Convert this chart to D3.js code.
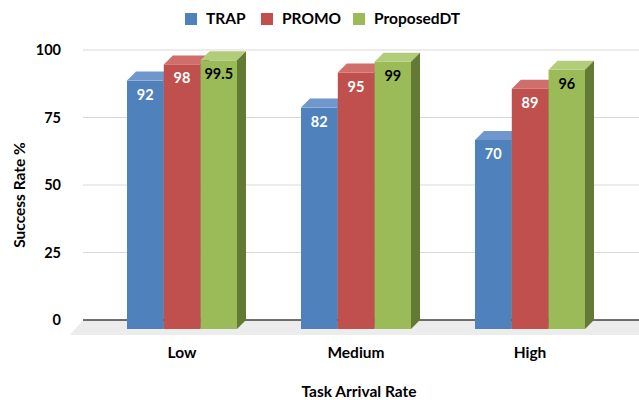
<!DOCTYPE html>
<html>
<head>
<meta charset="utf-8">
<script src="https://cdn.jsdelivr.net/npm/d3@7"></script>
<style>
  html, body { margin: 0; padding: 0; background: #fff; }
  svg { display: block; font-family: Lato, "Open Sans", sans-serif; }
</style>
</head>
<body>
<svg id="chart" width="639" height="400"></svg>
<script>
// Success rate per task arrival rate, three schedulers
const categories = ["Low", "Medium", "High"];
const seriesNames = ["TRAP", "PROMO", "ProposedDT"];
const trap = [92, 82, 70];
const promo = [98, 95, 89];
const proposedDT = [99.5, 99, 96];
const yTicks = [0, 25, 50, 75, 100];

const seriesValues = [trap, promo, proposedDT];
const front = ["#4f81bd", "#c0504d", "#9bbb59"];
const topFace = ["#6f97cc", "#cf6e6b", "#b2cd7a"];
const sideFace = ["#385d8a", "#8c3a38", "#637a35"];
const labelColor = ["#ffffff", "#ffffff", "#000000"];

const svg = d3.select("#chart");
const W = 639;

// depth of the 3D extrusion
const dx = 9, dy = 9;

const y = d3.scaleLinear().domain([0, 100]).range([320, 50]);
const x = d3.scaleBand().domain(categories).range([95, 617]);
const inner = d3.scaleBand().domain(seriesNames).range([-55, 55]).paddingInner(0.01);

// floor
svg.append("path")
  .attr("d", `M${83},${y(0)} L${W},${y(0)} L${W},${y(0) + 15} L${70},${y(0) + 15} Z`)
  .attr("fill", "#ececec");

// gridlines
svg.append("g").selectAll("line").data(yTicks.filter(d => d > 0)).join("line")
  .attr("x1", 83).attr("x2", W)
  .attr("y1", d => y(d)).attr("y2", d => y(d))
  .attr("stroke", "#d9d9d9").attr("stroke-width", 1.2);
svg.append("line")
  .attr("x1", 83).attr("x2", W).attr("y1", y(0)).attr("y2", y(0))
  .attr("stroke", "#404040").attr("stroke-width", 1.4);

// y tick labels
svg.append("g").selectAll("text").data(yTicks).join("text")
  .attr("x", 61).attr("y", d => y(d)).attr("dy", "0.35em")
  .attr("text-anchor", "end")
  .attr("font-size", 14.5).attr("font-weight", "bold").attr("fill", "#000")
  .text(d => d);

// bars
const rows = [];
categories.forEach((c, i) => {
  seriesNames.forEach((s, k) => {
    rows.push({ cat: c, series: s, k, value: seriesValues[k][i] });
  });
});

const bars = svg.append("g").selectAll("g").data(rows).join("g");
bars.each(function (d) {
  const g = d3.select(this);
  const x0 = x(d.cat) + x.bandwidth() / 2 + inner(d.series);
  const w = inner.bandwidth();
  const yt = y(d.value) + dy;
  const yb = y(0) + dy;
  // front face
  g.append("rect").attr("x", x0).attr("y", yt).attr("width", w).attr("height", yb - yt)
    .attr("fill", front[d.k]);
  // top face
  g.append("path")
    .attr("d", `M${x0},${yt} L${x0 + dx},${yt - dy} L${x0 + w + dx},${yt - dy} L${x0 + w},${yt} Z`)
    .attr("fill", topFace[d.k]);
  // side face
  g.append("path")
    .attr("d", `M${x0 + w},${yt} L${x0 + w + dx},${yt - dy} L${x0 + w + dx},${yb - dy} L${x0 + w},${yb} Z`)
    .attr("fill", sideFace[d.k]);
  // value label
  g.append("text")
    .attr("x", x0 + w / 2).attr("y", yt + 19)
    .attr("text-anchor", "middle")
    .attr("font-size", 14.5).attr("font-weight", "bold")
    .attr("fill", labelColor[d.k])
    .text(d.value);
});

// category labels
svg.append("g").selectAll("text").data(categories).join("text")
  .attr("x", d => x(d) + x.bandwidth() / 2).attr("y", 358)
  .attr("text-anchor", "middle")
  .attr("font-size", 15.5).attr("font-weight", "bold")
  .text(d => d);

// axis titles
svg.append("text")
  .attr("x", 359).attr("y", 397)
  .attr("text-anchor", "middle")
  .attr("font-size", 15.5).attr("font-weight", "bold")
  .text("Task Arrival Rate");
svg.append("text")
  .attr("transform", `translate(25,195) rotate(-90)`)
  .attr("text-anchor", "middle")
  .attr("font-size", 15.5).attr("font-weight", "bold")
  .text("Success Rate %");

// legend
const legendX = [185, 261, 353];
const legend = svg.append("g").selectAll("g").data(seriesNames).join("g")
  .attr("transform", (d, i) => `translate(${legendX[i]},19)`);
legend.append("rect").attr("x", 0).attr("y", -6).attr("width", 12).attr("height", 12)
  .attr("fill", (d, i) => front[i]);
legend.append("text").attr("x", 21).attr("y", 0).attr("dy", "0.35em")
  .attr("font-size", 15.5).attr("font-weight", "bold")
  .text(d => d);
</script>
</body>
</html>
